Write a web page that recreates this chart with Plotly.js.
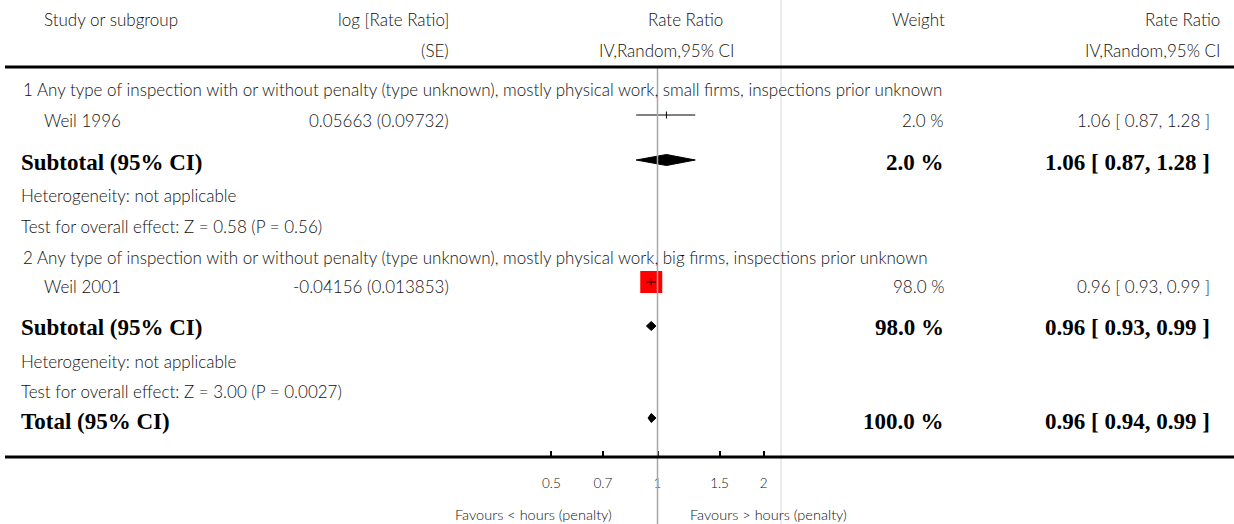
<!DOCTYPE html>
<html>
<head>
<meta charset="utf-8">
<script src="https://cdn.plot.ly/plotly-3.0.1.min.js"></script>
<style>html,body{margin:0;padding:0;background:#fff;}#chart{width:1234px;height:524px;}</style>
</head>
<body>
<div id="chart"></div>
<script>
// ---------------- data ----------------
const groupTitles = [
  '1 Any type of inspection with or without penalty (type unknown), mostly physical work, small firms, inspections prior unknown',
  '2 Any type of inspection with or without penalty (type unknown), mostly physical work, big firms, inspections prior unknown'
];
const studies = ['Weil 1996', 'Weil 2001'];
const logRR = ['0.05663', '-0.04156'];
const logSE = ['0.09732', '0.013853'];
const studyRR = [1.06, 0.96];
const studyLo = [0.87, 0.93];
const studyHi = [1.28, 0.99];
const studyWeight = [2.0, 98.0];
const subtotalRR = [1.06, 0.96];
const subtotalLo = [0.87, 0.93];
const subtotalHi = [1.28, 0.99];
const subtotalWeight = [2.0, 98.0];
const heterogeneity = ['Heterogeneity: not applicable', 'Heterogeneity: not applicable'];
const overallTest = ['Test for overall effect: Z = 0.58 (P = 0.56)', 'Test for overall effect: Z = 3.00 (P = 0.0027)'];
const totalRR = 0.96, totalLo = 0.94, totalHi = 0.99, totalWeight = 100.0;
const tickVals = [0.5, 0.7, 1, 1.5, 2];
const tickText = ['0.5', '0.7', '1', '1.5', '2'];
const favours = ['Favours < hours (penalty)', 'Favours > hours (penalty)'];

// ---------------- layout geometry (pixels) ----------------
const W = 1234, H = 524;
const nullPx = 657.5, pxPerDecade = 352.3;
const r0 = -nullPx / pxPerDecade, r1 = r0 + W / pxPerDecade;
const px = v => v / W;

const groupY = [89, 257];
const studyTextY = [120, 286];
const studyMarkY = [115, 282];
const subtotalTextY = [162, 327];
const subtotalMarkY = [160, 326];
const hetY = [195, 361];
const testY = [226, 391];
const totalTextY = 421, totalMarkY = 418;
const diamondHalf = [5.5, 4.5];

const LIGHT = {family: 'Lato, "Open Sans", sans-serif', size: 17, color: '#111', weight: 300};
const BOLD = {family: '"Liberation Serif", "DejaVu Serif", serif', size: 23, color: '#000', weight: 'bold'};

const fmtCI = (e, l, h) => `${e.toFixed(2)} [ ${l.toFixed(2)}, ${h.toFixed(2)} ]`;
const fmtW = w => `${w.toFixed(1)} %`;

const ann = [];
function txt(text, x, y, anchor, font) {
  ann.push({text, x: px(x), y, xref: 'paper', yref: 'y', xanchor: anchor, yanchor: 'middle', showarrow: false, font});
}
// header
txt('Study or subgroup', 42, 19, 'left', LIGHT);
txt('log [Rate Ratio]', 451, 19, 'right', LIGHT);
txt('(SE)', 451, 50, 'right', LIGHT);
txt('Rate Ratio', 685, 19, 'center', LIGHT);
txt('IV,Random,95% CI', 666, 50, 'center', LIGHT);
txt('Weight', 947, 19, 'right', LIGHT);
txt('Rate Ratio', 1222, 19, 'right', LIGHT);
txt('IV,Random,95% CI', 1222, 50, 'right', LIGHT);

for (let g = 0; g < 2; g++) {
  txt(groupTitles[g], 21, groupY[g], 'left', LIGHT);
  txt(studies[g], 42, studyTextY[g], 'left', LIGHT);
  txt(`${logRR[g]} (${logSE[g]})`, 451, studyTextY[g], 'right', LIGHT);
  txt(fmtW(studyWeight[g]), 946, studyTextY[g], 'right', LIGHT);
  txt(fmtCI(studyRR[g], studyLo[g], studyHi[g]), 1212, studyTextY[g], 'right', LIGHT);
  txt('Subtotal (95% CI)', 19, subtotalTextY[g], 'left', BOLD);
  txt(fmtW(subtotalWeight[g]), 946, subtotalTextY[g], 'right', BOLD);
  txt(fmtCI(subtotalRR[g], subtotalLo[g], subtotalHi[g]), 1212, subtotalTextY[g], 'right', BOLD);
  txt(heterogeneity[g], 19, hetY[g], 'left', LIGHT);
  txt(overallTest[g], 19, testY[g], 'left', LIGHT);
}
txt('Total (95% CI)', 19, totalTextY, 'left', BOLD);
txt(fmtW(totalWeight), 946, totalTextY, 'right', BOLD);
txt(fmtCI(totalRR, totalLo, totalHi), 1212, totalTextY, 'right', BOLD);
const SMALL = Object.assign({}, LIGHT, {size: 14.5});
txt(favours[0], 533, 514, 'center', SMALL);
txt(favours[1], 769, 514, 'center', SMALL);

// ---------------- traces ----------------
const traces = [];
// red weight squares
traces.push({
  type: 'scatter', mode: 'markers', x: studyRR, y: studyMarkY, opacity: 1,
  marker: {symbol: 'square', color: '#ff0000', opacity: 1, size: studyWeight.map(w => 22 * w / 98), line: {width: 0}},
  hoverinfo: 'skip'
});
// CI lines
const ciX = [], ciY = [];
studyRR.forEach((e, i) => { ciX.push(studyLo[i], studyHi[i], null); ciY.push(studyMarkY[i], studyMarkY[i], null); });
traces.push({type: 'scatter', mode: 'lines', x: ciX, y: ciY, line: {color: '#000', width: 1}, hoverinfo: 'skip'});
// estimate ticks
traces.push({
  type: 'scatter', mode: 'markers', x: studyRR, y: studyMarkY,
  marker: {symbol: 'line-ns', size: 5, opacity: 1, line: {color: '#000', width: 1}}, hoverinfo: 'skip'
});
// diamonds
function diamond(e, l, h, y, hh) {
  traces.push({
    type: 'scatter', mode: 'lines', fill: 'toself', fillcolor: '#000',
    x: [l, e, h, e, l], y: [y, y - hh, y, y + hh, y],
    line: {color: '#000', width: 1}, hoverinfo: 'skip'
  });
}
for (let g = 0; g < 2; g++) diamond(subtotalRR[g], subtotalLo[g], subtotalHi[g], subtotalMarkY[g], diamondHalf[g]);
diamond(totalRR, totalLo, totalHi, totalMarkY, 4.5);

const shapes = [
  {type: 'line', xref: 'paper', yref: 'y', x0: px(781), x1: px(781), y0: 0, y1: H, line: {color: '#e6e6e6', width: 1.5}},
  {type: 'line', xref: 'x', yref: 'y', x0: 1, x1: 1, y0: 67, y1: H, line: {color: '#a8a8a8', width: 1.5}},
  {type: 'line', xref: 'paper', yref: 'y', x0: px(5), x1: 1, y0: 67, y1: 67, line: {color: '#000', width: 3}},
  {type: 'line', xref: 'paper', yref: 'y', x0: px(5), x1: 1, y0: 457, y1: 457, line: {color: '#000', width: 3}}
];

const layout = {
  width: W, height: H, margin: {l: 0, r: 0, t: 0, b: 0},
  paper_bgcolor: '#fff', plot_bgcolor: '#fff', showlegend: false,
  xaxis: {
    type: 'log', range: [r0, r1], domain: [0, 1], anchor: 'free', position: (H - 457) / H,
    showgrid: false, zeroline: false, showline: false,
    ticks: 'inside', ticklen: 6, tickwidth: 2, tickcolor: '#000',
    tickvals: tickVals, ticktext: tickText, ticklabelstandoff: 16,
    tickfont: {family: LIGHT.family, size: 13.5, color: '#111', weight: 300}
  },
  yaxis: {range: [H, 0], domain: [0, 1], visible: false, showgrid: false, zeroline: false},
  shapes, annotations: ann, hovermode: false
};
Plotly.newPlot('chart', traces, layout, {staticPlot: true, displayModeBar: false});
</script>
</body>
</html>
